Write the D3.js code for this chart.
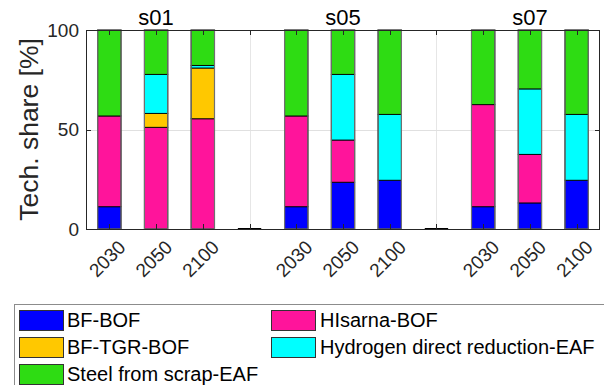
<!DOCTYPE html>
<html><head><meta charset="utf-8">
<script src="https://cdn.jsdelivr.net/npm/d3@7/dist/d3.min.js"></script>
<style>body{margin:0;background:#fff;} svg{display:block;font-family:"Liberation Sans",Arial,sans-serif;}</style>
</head><body>
<svg id="c" width="604" height="385"></svg>
<script>
const categories = ["2030","2050","2100","","2030","2050","2100","","2030","2050","2100"];
const groupTitles = ["s01","s05","s07"];
const groupCenters = [2, 6, 10];
const seriesNames = ["BF-BOF","HIsarna-BOF","BF-TGR-BOF","Hydrogen direct reduction-EAF","Steel from scrap-EAF"];
const bfBof      = [11.2, 0,    0,    0, 11.2, 23.5, 24.5, 0, 11.2, 13.1, 24.5];
const hisarna    = [45.6, 51.1, 55.4, 0, 45.6, 21.2, 0,    0, 51.3, 24.4, 0];
const bfTgrBof   = [0,    7.0,  25.5, 0, 0,    0,    0,    0, 0,    0,    0];
const hydrogen   = [0,    19.6, 1.3,  0, 0,    33.0, 33.1, 0, 0,    32.9, 33.1];
const scrapEaf   = [43.2, 22.3, 17.8, 0, 43.2, 22.3, 42.4, 0, 37.5, 29.6, 42.4];
const yTicks = [0, 50, 100];
const colors = ["#0000ff","#ff149b","#ffc800","#00ffff","#2edc13"];

const series = [bfBof, hisarna, bfTgrBof, hydrogen, scrapEaf];
const svg = d3.select("#c");
const L = 86, R = 600, T = 30, B = 229;
const x = d3.scaleLinear().domain([0.5, categories.length + 0.5]).range([L, R]);
const y = d3.scaleLinear().domain([0, 100]).range([B, T]);
const step = x(2) - x(1);
const bw = step * 0.5;
const axisCol = "#262626";

// grid
const g = svg.append("g");
categories.forEach((c, i) => {
  g.append("line").attr("x1", Math.round(x(i+1))+0.5).attr("x2", Math.round(x(i+1))+0.5)
   .attr("y1", T).attr("y2", B).attr("stroke", "#e6e6e6").attr("stroke-width", 1);
});
yTicks.forEach(t => {
  g.append("line").attr("x1", L).attr("x2", R).attr("y1", Math.round(y(t))+0.5).attr("y2", Math.round(y(t))+0.5)
   .attr("stroke", "#e0e0e0").attr("stroke-width", 1);
});

// bars
const stack = d3.stack().keys(d3.range(series.length)).value((d, k) => d[k]);
const rows = categories.map((c, i) => series.map(s => s[i]));
const stacked = stack(rows);
const bars = svg.append("g");
stacked.forEach((layer, k) => {
  layer.forEach((d, i) => {
    if (d[1] - d[0] <= 0) return;
    bars.append("rect")
      .attr("x", x(i+1) - bw/2).attr("width", bw)
      .attr("y", y(d[1])).attr("height", y(d[0]) - y(d[1]))
      .attr("fill", colors[k]).attr("stroke", "#000").attr("stroke-width", 0.9);
  });
});
// outer outline and zero bars
categories.forEach((c, i) => {
  const tot = d3.sum(series, s => s[i]);
  if (tot > 0) {
    bars.append("rect").attr("x", x(i+1) - bw/2).attr("width", bw)
      .attr("y", y(tot)).attr("height", y(0) - y(tot))
      .attr("fill", "none").attr("stroke", "#707070").attr("stroke-width", 1.2);
  } else {
    bars.append("line").attr("x1", x(i+1) - bw/2).attr("x2", x(i+1) + bw/2)
      .attr("y1", B).attr("y2", B).attr("stroke", "#000").attr("stroke-width", 2);
  }
});

// ticks
const ax = svg.append("g").attr("stroke", axisCol).attr("stroke-width", 1);
categories.forEach((c, i) => {
  const xx = Math.round(x(i+1)) + 0.5;
  ax.append("line").attr("x1", xx).attr("x2", xx).attr("y1", B).attr("y2", B - 5);
  ax.append("line").attr("x1", xx).attr("x2", xx).attr("y1", T).attr("y2", T + 5);
});
yTicks.forEach(t => {
  const yy = Math.round(y(t)) + 0.5;
  ax.append("line").attr("x1", L).attr("x2", L + 5).attr("y1", yy).attr("y2", yy);
  ax.append("line").attr("x1", R).attr("x2", R - 5).attr("y1", yy).attr("y2", yy);
});
// axes box
svg.append("rect").attr("x", L + 0.5).attr("y", T + 0.5).attr("width", R - L - 1).attr("height", B - T)
  .attr("fill", "none").attr("stroke", axisCol).attr("stroke-width", 1);

// y tick labels
yTicks.forEach(t => {
  svg.append("text").attr("x", L - 7).attr("y", y(t)).attr("dy", "0.36em")
    .attr("text-anchor", "end").attr("font-size", 19).attr("fill", axisCol).text(t);
});
// x tick labels
categories.forEach((c, i) => {
  if (!c) return;
  const xx = x(i+1) + 8, yy = B + 10;
  svg.append("text").attr("transform", `translate(${xx},${yy}) rotate(-45)`)
    .attr("text-anchor", "end").attr("dy", "0.7em").attr("font-size", 19).attr("fill", axisCol).text(c);
});
// y label
svg.append("text").attr("transform", `translate(38,${(T+B)/2}) rotate(-90)`)
  .attr("text-anchor", "middle").attr("font-size", 26.5).attr("fill", axisCol).text("Tech. share [%]");
// group titles
groupTitles.forEach((t, i) => {
  svg.append("text").attr("x", x(groupCenters[i])).attr("y", 25).attr("text-anchor", "middle")
    .attr("font-size", 22).attr("fill", "#000").text(t);
});

// legend
const lg = svg.append("g");
lg.append("rect").attr("x", 14.5).attr("y", 304.5).attr("width", 600).attr("height", 100)
  .attr("fill", "#fff").attr("stroke", "#8c8c8c").attr("stroke-width", 1);
seriesNames.forEach((n, k) => {
  const col = k % 2, row = Math.floor(k / 2);
  const lx = col === 0 ? 19 : 271;
  const cy = 320 + row * 27;
  lg.append("rect").attr("x", lx + 0.5).attr("y", cy - 10 + 0.5).attr("width", 44).attr("height", 20)
    .attr("fill", colors[k]).attr("stroke", "#333").attr("stroke-width", 1);
  lg.append("text").attr("x", lx + (col === 0 ? 48 : 49)).attr("y", cy + 6.7)
    .attr("font-size", 20).attr("fill", "#000").text(n);
});
</script>
</body></html>
